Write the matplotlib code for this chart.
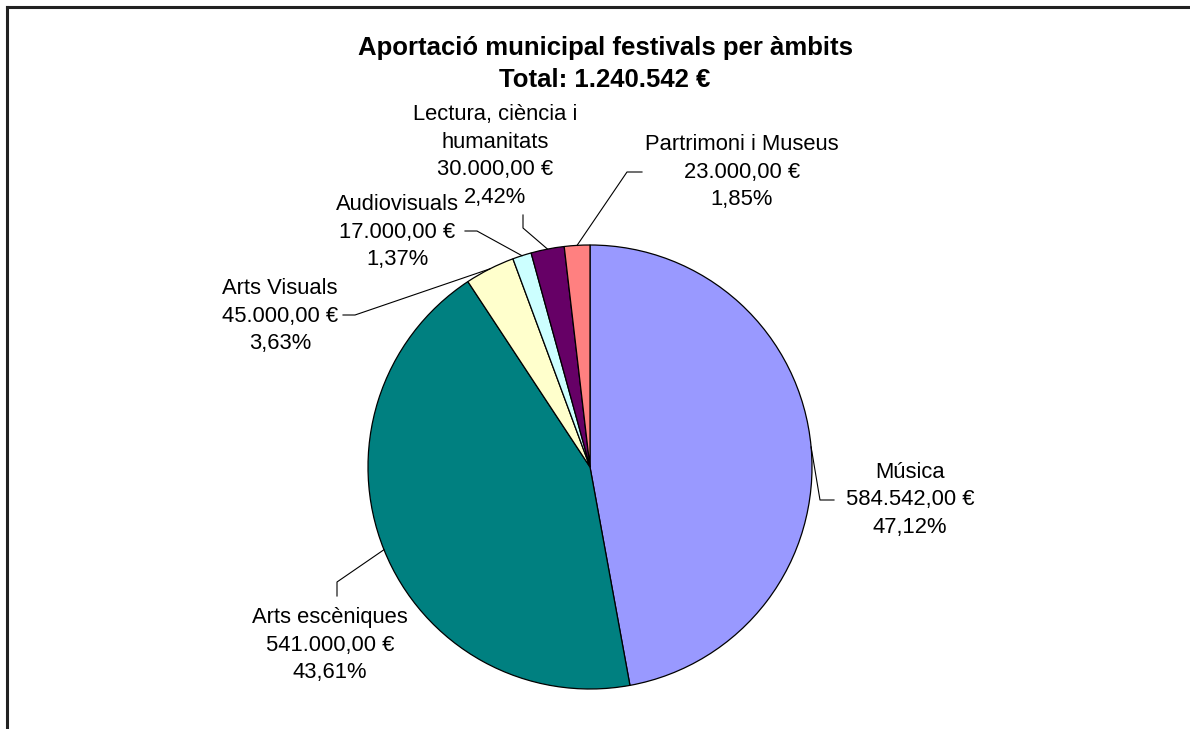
import numpy as np
import matplotlib.pyplot as plt
from matplotlib.lines import Line2D

plt.rcParams['font.family'] = ['Liberation Sans', 'DejaVu Sans']

# data
ambits = ["Música", "Arts escèniques", "Arts Visuals", "Audiovisuals",
          "Lectura, ciència i\nhumanitats", "Partrimoni i Museus"]
imports = [584542.00, 541000.00, 45000.00, 17000.00, 30000.00, 23000.00]
colors = ["#9999FF", "#008080", "#FFFFCC", "#CCFFFF", "#660066", "#FF8080"]
titol = "Aportació municipal festivals per àmbits"

W, H = 1190, 729
total = sum(imports)


def euro(v, dec=2):
    s = f"{v:,.{dec}f}".replace(",", "X").replace(".", ",").replace("X", ".")
    return s + " €"


# label layout in pixels from top-left: label centre, elbow point, line end
label_pos = [(910, 500), (330, 645), (280, 316), (397, 232), (495, 156), (742, 172)]
elbows = [(820, 500), (337, 582), (355, 315), (477, 231), (523, 228), (627, 172)]
ends = [(834, 500), (337, 596), (343, 315), (465, 231), (523, 215), (642, 172)]

fig = plt.figure(figsize=(11.9, 7.29), dpi=100)
ax = fig.add_axes([0, 0, 1, 1])

cx, cy, r = 590, H - 467, 222
wedges, _ = ax.pie(imports, colors=colors, startangle=90, counterclock=False,
                   center=(cx, cy), radius=r, frame=True,
                   wedgeprops=dict(edgecolor="black", linewidth=0.9))
ax.set_xlim(0, W)
ax.set_ylim(0, H)
ax.set_aspect("equal")
ax.axis("off")

for w, nom, v, lp, el, en in zip(wedges, ambits, imports, label_pos, elbows, ends):
    mid = np.deg2rad((w.theta1 + w.theta2) / 2)
    px = cx + r * np.cos(mid)
    py = cy + r * np.sin(mid)
    ax.plot([px, el[0], en[0]], [py, H - el[1], H - en[1]], color="black", lw=0.8)
    pct = f"{v / total * 100:.2f}".replace(".", ",") + "%"
    txt = f"{nom}\n{euro(v)}\n{pct}"
    ax.text(lp[0], H - lp[1], txt, ha="center", va="center", fontsize=15.8,
            linespacing=1.42, color="black")

ax.text(605, H - 64, f"{titol}\nTotal: {euro(total, 0)}", ha="center", va="center",
        fontsize=18.5, fontweight="bold", linespacing=1.45)

# chart border (top and left only visible)
fig.add_artist(Line2D([7 / W, 1], [1 - 7 / H, 1 - 7 / H], color="#222222", lw=2.2))
fig.add_artist(Line2D([7 / W, 7 / W], [0, 1 - 7 / H], color="#222222", lw=2.2))

fig.savefig("out.png", dpi=100, facecolor="white")
